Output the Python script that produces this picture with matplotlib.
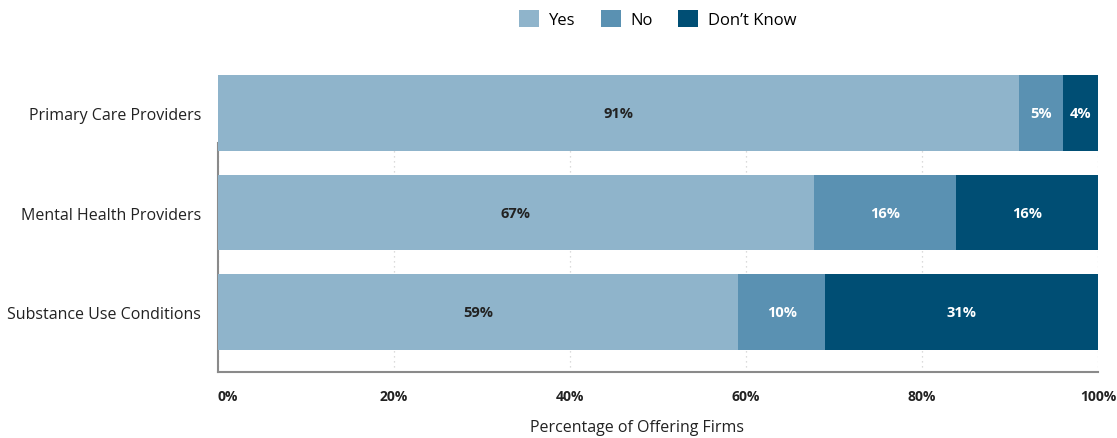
import matplotlib
matplotlib.use("Agg")
import matplotlib.pyplot as plt
from matplotlib.patches import Patch
import numpy as np

categories = ["Primary Care Providers", "Mental Health Providers", "Substance Use Conditions"]
yes_vals = [91.0, 67.7, 59.1]
no_vals = [5.0, 16.2, 9.9]
dk_vals = [4.0, 16.1, 31.0]
yes_labels = ["91%", "67%", "59%"]
no_labels = ["5%", "16%", "10%"]
dk_labels = ["4%", "16%", "31%"]
series_names = ["Yes", "No", "Don\u2019t Know"]
colors = ["#8fb4cb", "#5a91b2", "#004e74"]
text_colors = ["#222222", "white", "white"]
xticks = [0, 20, 40, 60, 80, 100]
xtick_labels = ["0%", "20%", "40%", "60%", "80%", "100%"]

plt.rcParams['font.family'] = ['Open Sans', 'DejaVu Sans']

fig = plt.figure(figsize=(11.17, 4.39), dpi=100)
ax = fig.add_axes([218/1117, 1-373/439, (1098-218)/1117, (373-76)/439])

y = np.arange(len(categories))
left = np.zeros(len(categories))
for vals, labs, c, tc in zip([yes_vals, no_vals, dk_vals], [yes_labels, no_labels, dk_labels], colors, text_colors):
    vals = np.array(vals)
    ax.barh(y, vals, left=left, height=0.76, color=c, zorder=3)
    for yi, l, v, lab in zip(y, left, vals, labs):
        ax.text(l + v/2, yi, lab, ha='center', va='center', color=tc,
                fontsize=10.5, fontweight='bold', zorder=4)
    left = left + vals

ax.set_xlim(0, 100)
ax.set_ylim(2.6, -0.38)
ax.set_yticks(y)
ax.set_yticklabels(categories, fontsize=11.5, color="#222222")
ax.set_xticks(xticks)
ax.set_xticklabels(xtick_labels, fontsize=10, fontweight='bold', color="#222222")
ax.get_xticklabels()[0].set_horizontalalignment('left')
ax.tick_params(axis='both', length=0)
ax.tick_params(axis='x', pad=12)
ax.tick_params(axis='y', pad=12)
ax.xaxis.grid(True, linestyle=(0, (1, 3)), color="#d0d0d0", linewidth=0.9, zorder=0)
ax.set_axisbelow(True)
for s in ['top', 'right']:
    ax.spines[s].set_visible(False)
for s in ['left', 'bottom']:
    ax.spines[s].set_color("#8a8a8a")
    ax.spines[s].set_linewidth(1.5)
    ax.spines[s].set_zorder(2)
ax.spines['left'].set_bounds(2.6, 0.3)

handles = [Patch(facecolor=c, edgecolor='none', label=n) for c, n in zip(colors, series_names)]
fig.legend(handles=handles, loc='center', bbox_to_anchor=(658/1117, 1-20/439), ncol=3,
           frameon=False, fontsize=12, handlelength=1.2, handleheight=1.2,
           columnspacing=1.5, handletextpad=0.6)
fig.text(637/1117, 1-428/439, "Percentage of Offering Firms", ha='center', va='center',
         fontsize=11.5, color="#222222")

fig.savefig("out.png", dpi=100)
